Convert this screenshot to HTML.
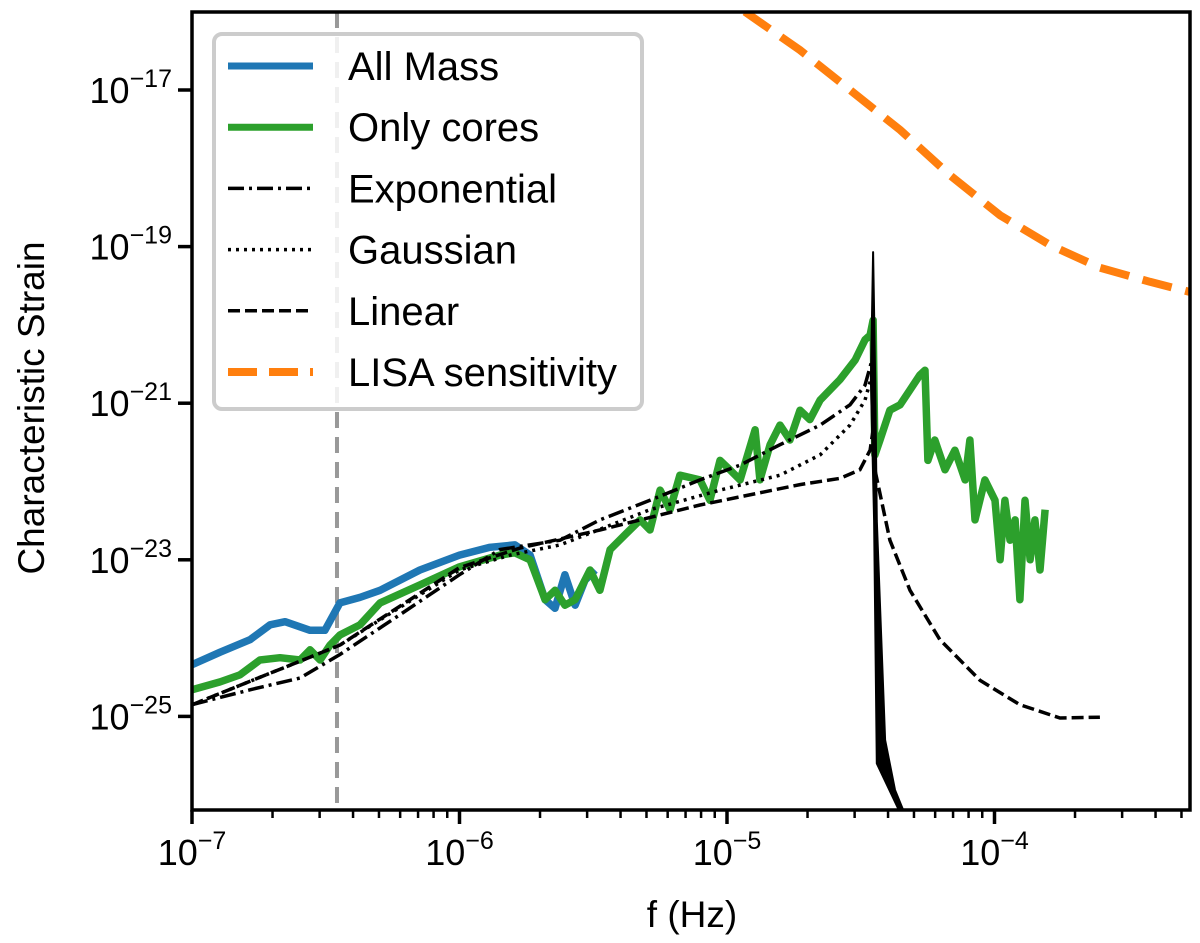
<!DOCTYPE html>
<html><head><meta charset="utf-8"><style>
html,body{margin:0;padding:0;background:#fff;}
svg{display:block;font-family:"Liberation Sans",sans-serif;}
</style></head><body>
<svg id="chart" width="1200" height="943" viewBox="0 0 1200 943">
<g id="plot"></g>
</svg>
<script>
// data (log10 f, log10 h)
const allMassF=[-7.0,-6.895,-6.783,-6.708,-6.652,-6.559,-6.503,-6.447,-6.372,-6.297,-6.148,-6.0,-5.886,-5.793,-5.736,-5.680,-5.643,-5.606,-5.568,-5.531,-5.493];
const allMassH=[-24.34,-24.18,-24.02,-23.83,-23.79,-23.90,-23.90,-23.55,-23.48,-23.39,-23.13,-22.94,-22.84,-22.81,-22.94,-23.51,-23.62,-23.19,-23.58,-23.26,-23.13];
const coresF=[-7.0,-6.895,-6.821,-6.746,-6.671,-6.596,-6.559,-6.521,-6.484,-6.447,-6.372,-6.297,-6.148,-6.0,-5.849,-5.793,-5.736,-5.680,-5.643,-5.606,-5.568,-5.512,-5.475,-5.437,-5.381,-5.325,-5.288,-5.250,-5.213,-5.176,-5.101,-5.064,-5.026,-4.989,-4.951,-4.895,-4.877,-4.839,-4.802,-4.765,-4.727,-4.690,-4.652,-4.615,-4.578,-4.521,-4.484,-4.465,-4.454,-4.447,-4.428,-4.391,-4.353,-4.316,-4.279,-4.260,-4.249,-4.223,-4.185,-4.148,-4.110,-4.092,-4.073,-4.036,-3.998,-3.979,-3.961,-3.942,-3.923,-3.905,-3.886,-3.867,-3.849,-3.830,-3.811];
const coresH=[-24.66,-24.56,-24.47,-24.28,-24.25,-24.28,-24.15,-24.28,-24.09,-23.96,-23.83,-23.55,-23.32,-23.09,-22.94,-22.91,-23.00,-23.51,-23.39,-23.58,-23.51,-23.13,-23.39,-22.87,-22.68,-22.49,-22.62,-22.11,-22.36,-21.92,-21.98,-22.24,-21.73,-21.85,-21.98,-21.34,-21.98,-21.53,-21.28,-21.47,-21.09,-21.21,-20.96,-20.83,-20.70,-20.45,-20.19,-20.13,-19.94,-21.66,-21.47,-21.09,-21.02,-20.83,-20.64,-20.58,-21.73,-21.47,-21.85,-21.60,-21.98,-21.47,-22.49,-21.98,-22.24,-23.00,-22.24,-22.75,-22.49,-23.51,-22.24,-23.00,-22.49,-23.13,-22.36];
const expoF=[-7.0,-6.783,-6.596,-6.447,-6.222,-6.0,-5.849,-5.624,-5.475,-5.288,-5.101,-4.951,-4.802,-4.652,-4.540,-4.484,-4.458];
const expoH=[-24.85,-24.66,-24.51,-24.21,-23.70,-23.19,-22.87,-22.75,-22.49,-22.24,-21.98,-21.79,-21.53,-21.28,-21.02,-20.77,-20.45];
const gaussF=[-7.0,-6.447,-6.0,-5.811,-5.624,-5.288,-5.026,-4.802,-4.652,-4.540,-4.484,-4.458];
const gaussH=[-24.85,-24.09,-23.13,-22.94,-22.81,-22.36,-22.11,-21.92,-21.66,-21.28,-20.96,-20.64];
const linF=[-7.0,-6.447,-6.0,-5.774,-5.475,-5.101,-4.727,-4.578,-4.503,-4.465,-4.454,-4.447,-4.391,-4.316,-4.204,-4.054,-3.905,-3.755,-3.606];
const linH=[-24.85,-24.09,-23.10,-22.85,-22.62,-22.30,-22.04,-21.96,-21.85,-21.60,-21.34,-21.85,-22.75,-23.39,-24.02,-24.54,-24.85,-25.02,-25.01];
const spikeF=[-4.462,-4.454,-4.446,-4.440,-4.409,-4.372,-4.335,-4.350,-4.440,-4.450];
const spikeH=[-20.70,-19.07,-20.70,-22.5,-25.30,-25.94,-26.25,-26.25,-25.60,-22.50];
const lisaF=[-4.933,-4.727,-4.540,-4.353,-4.166,-3.979,-3.793,-3.606,-3.419,-3.269];
const lisaH=[-16.00,-16.49,-17.00,-17.51,-18.09,-18.60,-18.98,-19.27,-19.45,-19.58];
const xTickExp=[-7,-6,-5,-4];
const xTickLabels=["\u22127","\u22126","\u22125","\u22124"];
const yTickExp=[-17,-19,-21,-23,-25];
const yTickLabels=["\u221217","\u221219","\u221221","\u221223","\u221225"];
const cutoffF=-6.458;

const L=192,R=1190,T=12,B=810;
const X=v=>L+(v+7)*267.5;
const Y=v=>90+(-17-v)*78.3;
const NS="http://www.w3.org/2000/svg";
const svg=document.getElementById('chart');
const plot=document.getElementById('plot');
function mk(tag,attrs,parent){const e=document.createElementNS(NS,tag);for(const k in attrs)e.setAttribute(k,attrs[k]);(parent||svg).appendChild(e);return e;}
const defs=mk('defs',{});
const cp=mk('clipPath',{id:'clip'},defs);
mk('rect',{x:L,y:T,width:R-L,height:B-T},cp);
plot.setAttribute('clip-path','url(#clip)');
function pts(fs,hs){return fs.map((f,i)=>X(f).toFixed(1)+','+Y(hs[i]).toFixed(1)).join(' ');}

let e;
e=mk('line',{x1:X(cutoffF),x2:X(cutoffF),y1:T,y2:B,stroke:'#999',"stroke-width":4,"stroke-dasharray":"16,9"},plot);


e=mk('polyline',{points:pts(allMassF,allMassH),fill:'none',stroke:'#1f77b4',"stroke-width":7.5,"stroke-linejoin":'round'},plot);


e=mk('polyline',{points:pts(coresF,coresH),fill:'none',stroke:'#2ca02c',"stroke-width":7.5,"stroke-linejoin":'round'},plot);


e=mk('polyline',{points:pts(expoF,expoH),fill:'none',stroke:'#000',"stroke-width":3.5,"stroke-dasharray":"16,5,3,5"},plot);


e=mk('polyline',{points:pts(gaussF,gaussH),fill:'none',stroke:'#000',"stroke-width":3.5,"stroke-dasharray":"3,5"},plot);


e=mk('polyline',{points:pts(linF,linH),fill:'none',stroke:'#000',"stroke-width":3.5,"stroke-dasharray":"12,5"},plot);


e=mk('polygon',{points:pts(spikeF,spikeH),fill:'#000',stroke:'#000',"stroke-width":2,"stroke-linejoin":'round'},plot);


e=mk('polyline',{points:pts(lisaF,lisaH),fill:'none',stroke:'#ff7f0e',"stroke-width":8,"stroke-dasharray":"30,14"},plot);



e=mk('rect',{x:L,y:T,width:R-L,height:B-T,fill:'none',stroke:'#000',"stroke-width":3.5});


for(let d=-7;d<=-4;d++){for(let m=1;m<10;m++){const v=d+Math.log10(m);const x=X(v);if(x>R+1)continue;
 const len=m===1?14:8;
 e=mk('line',{x1:x,x2:x,y1:B,y2:B+len,stroke:'#000',"stroke-width":m===1?3.5:2.5});
 
 }}
xTickExp.forEach((v,i)=>{const t=mk('text',{x:X(v),y:B+55,"font-size":36,"text-anchor":'middle'});
 t.innerHTML='10<tspan dy="-16" font-size="25">'+xTickLabels[i]+'</tspan>';
 
 });
yTickExp.forEach((v,i)=>{const y=Y(v);
 e=mk('line',{x1:L-14,x2:L,y1:y,y2:y,stroke:'#000',"stroke-width":3.5});
 
 
 const t=mk('text',{x:L-20,y:y+13,"font-size":36,"text-anchor":'end'});
 t.innerHTML='10<tspan dy="-16" font-size="25">'+yTickLabels[i]+'</tspan>';
 
 });
e=mk('text',{x:692,y:927,"font-size":37,"text-anchor":'middle'});e.textContent='f (Hz)';


e=mk('text',{x:0,y:0,"font-size":37,"text-anchor":'middle',transform:'translate(44,408) rotate(-90)'});e.textContent='Characteristic Strain';



const lg=mk('g',{});


mk('rect',{x:214,y:34,width:428,height:375,rx:8,fill:'#fff',"fill-opacity":0.85,stroke:'#ccc',"stroke-width":4},lg);
const legNames=['All Mass','Only cores','Exponential','Gaussian','Linear','LISA sensitivity'];
const legStyles=[{stroke:'#1f77b4',"stroke-width":7},{stroke:'#2ca02c',"stroke-width":7},{stroke:'#000',"stroke-width":3.5,"stroke-dasharray":"16,5,3,5"},{stroke:'#000',"stroke-width":3.5,"stroke-dasharray":"3,5"},{stroke:'#000',"stroke-width":3.5,"stroke-dasharray":"12,5"},{stroke:'#ff7f0e',"stroke-width":8,"stroke-dasharray":"29,12"}];
legNames.forEach((n,i)=>{const y=66+i*61.2;
 const g=mk('g',{},lg);
 
 
 mk('line',Object.assign({x1:228,x2:313,y1:y,y2:y},legStyles[i]),g);
 const t=mk('text',{x:348,y:y+14,"font-size":40},g);t.textContent=n;});
</script>
</body></html>
